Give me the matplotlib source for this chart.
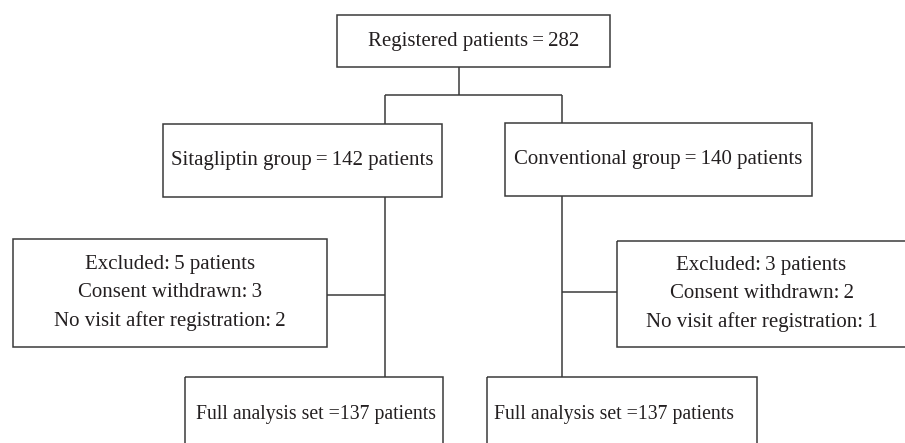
import matplotlib.pyplot as plt
from matplotlib.patches import Rectangle

plt.rcParams['font.family'] = ['Liberation Serif', 'DejaVu Serif']

# flowchart texts
registered = 282
groups = ['Sitagliptin group', 'Conventional group']
group_n = [142, 140]
excluded_n = [5, 3]
consent_withdrawn = [3, 2]
no_visit = [2, 1]
analysis_n = [137, 137]

TS = '\u2009'
line_col = '#3a3a3a'
txt_col = '#231f20'
lw = 1.1
FS = 15

fig = plt.figure(figsize=(9.05, 4.43), dpi=100)
ax = fig.add_axes([0, 0, 1, 1])
ax.set_xlim(0, 905)
ax.set_ylim(443, 0)
ax.axis('off')


def rect(x0, y0, x1, y1):
    ax.add_patch(Rectangle((x0, y0), x1 - x0, y1 - y0, fill=False,
                           edgecolor=line_col, linewidth=lw))


def box(x0, y0, x1, y1, text):
    rect(x0, y0, x1, y1)
    ax.text((x0 + x1) / 2, (y0 + y1) / 2, text, ha='center', va='center',
            fontsize=FS, color=txt_col, linespacing=1.65)


def line(xs, ys):
    ax.plot(xs, ys, color=line_col, linewidth=lw, solid_capstyle='butt')


# top box
box(337, 15, 610, 67, f'Registered patients{TS}={TS}{registered}')
line([459, 459], [67, 95])
line([385, 562], [95, 95])
line([385, 385], [95, 124])
line([562, 562], [95, 123])

# group boxes
box(163, 124, 442, 197, f'{groups[0]}{TS}={TS}{group_n[0]} patients')
box(505, 123, 812, 196, f'{groups[1]}{TS}={TS}{group_n[1]} patients')

# vertical lines down to analysis boxes
line([385, 385], [197, 377])
line([562, 562], [196, 377])

# excluded boxes
exc_text = [f'Excluded:{TS}{excluded_n[i]} patients\n'
            f'Consent withdrawn:{TS}{consent_withdrawn[i]}\n'
            f'No visit after registration:{TS}{no_visit[i]}' for i in range(2)]
box(13, 239, 327, 347, exc_text[0])
line([327, 385], [295, 295])
box(617, 241, 906, 347, exc_text[1])
line([562, 617], [292, 292])

# analysis boxes (cut off at the bottom)
rect(185, 377, 443, 452)
ax.text(436, 414, f'Full analysis set ={analysis_n[0]} patients',
        ha='right', va='center', fontsize=14.2, color=txt_col)
rect(487, 377, 757, 452)
ax.text(494, 414, f'Full analysis set ={analysis_n[1]} patients',
        ha='left', va='center', fontsize=14.2, color=txt_col)

fig.savefig('out.png', dpi=100)
